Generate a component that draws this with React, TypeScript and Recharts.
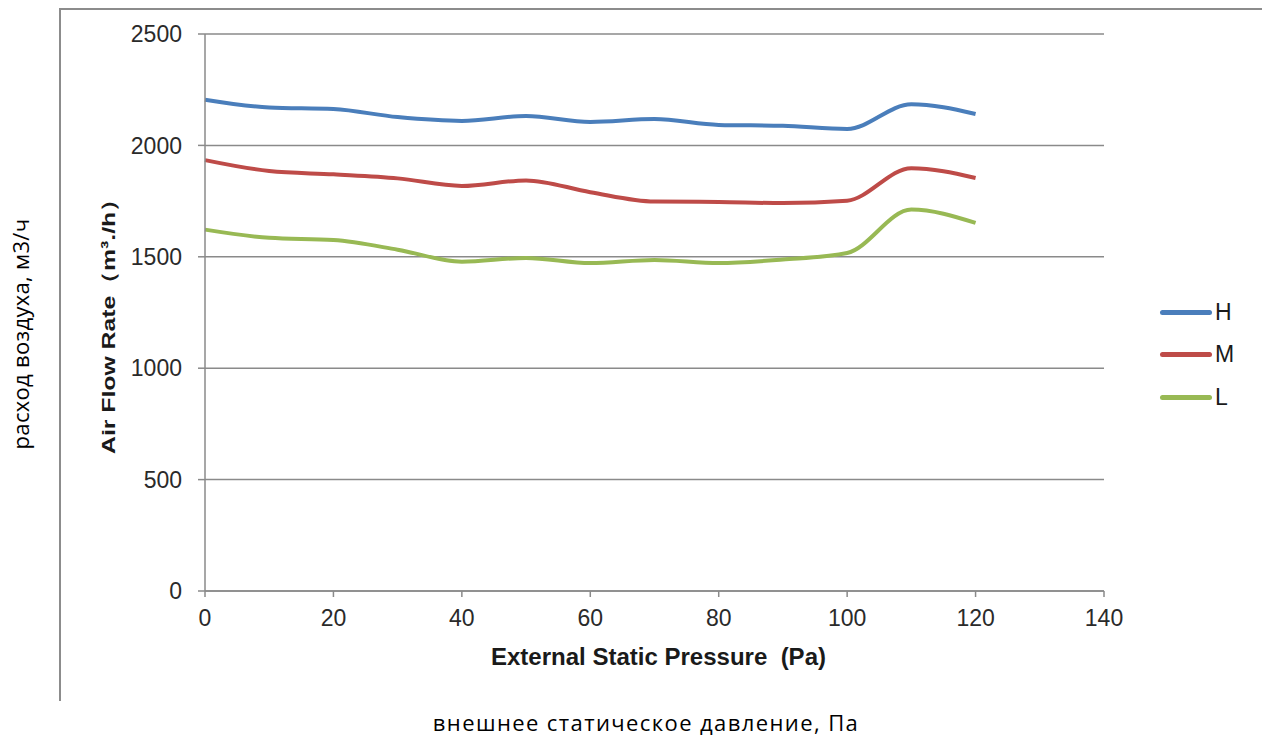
import { LineChart, Line, XAxis, YAxis, CartesianGrid, Label } from 'recharts';

const pressure = [0, 10, 20, 30, 40, 50, 60, 70, 80, 90, 100, 110, 120];
const flowH = [2205, 2170, 2163, 2127, 2110, 2132, 2105, 2118, 2092, 2088, 2074, 2185, 2141];
const flowM = [1934, 1885, 1870, 1852, 1818, 1843, 1790, 1748, 1746, 1741, 1752, 1898, 1854];
const flowL = [1622, 1585, 1575, 1532, 1478, 1495, 1472, 1486, 1472, 1488, 1517, 1712, 1652];
const xTicks = [0, 20, 40, 60, 80, 100, 120, 140];
const yTicks = [0, 500, 1000, 1500, 2000, 2500];

const SERIES = [
    { key: 'H', values: flowH, color: '#4A7EBB' },
    { key: 'M', values: flowM, color: '#BE4B48' },
    { key: 'L', values: flowL, color: '#98B954' },
];

const data = pressure.map((p, i) => {
    const row: Record<string, number> = { p };
    SERIES.forEach(s => { row[s.key] = s.values[i]; });
    return row;
});

const GRID = '#8a8a8a';
const FONT = '"Liberation Sans", Arial, sans-serif';
const TICK = { fontSize: 23, fill: '#2a2a2a', fontFamily: FONT };

function YTitle({ viewBox }: any) {
    const x = viewBox.x + 115;
    const y = viewBox.y + viewBox.height / 2 + 8;
    return (
        <text x={x} y={y} transform={`rotate(-90 ${x} ${y})`} textAnchor="middle" fontSize={19} fontWeight={700}
            fill="#1a1a1a" fontFamily={FONT} textLength={267} lengthAdjust="spacingAndGlyphs">
            Air Flow Rate（m³./h）
        </text>
    );
}

function XTitle({ viewBox }: any) {
    const x = viewBox.x + viewBox.width / 2 + 4;
    return (
        <text x={x} y={viewBox.y + 74} textAnchor="middle" fontSize={24} fontWeight={700} fill="#1a1a1a"
            fontFamily={FONT} textLength={335} lengthAdjust="spacingAndGlyphs" style={{ whiteSpace: 'pre' }}>
            External Static Pressure  (Pa)
        </text>
    );
}

export default function App() {
    return (
        <div style={{ position: 'absolute', left: 0, top: 0, width: 1263, height: 744, background: '#fff', overflow: 'hidden' }}>
            {/* frame of the pasted picture */}
            <div style={{ position: 'absolute', left: 59, top: 8, width: 1201, height: 691, borderLeft: '2px solid #8c8c8c', borderTop: '2px solid #8c8c8c' }} />
            <LineChart width={1263} height={744} data={data} margin={{ top: 34, right: 159, bottom: 0, left: 0 }}
                style={{ position: 'absolute', left: 0, top: 0 }}>
                <CartesianGrid vertical={false} stroke={GRID} strokeWidth={1.5} />
                <XAxis dataKey="p" type="number" domain={[0, 140]} ticks={xTicks} height={153} interval={0}
                    stroke={GRID} strokeWidth={1.5} tickSize={6} tickMargin={13} tick={TICK}
                    tickLine={{ stroke: GRID, strokeWidth: 1.5 }}>
                    <Label content={XTitle} />
                </XAxis>
                <YAxis type="number" domain={[0, 2500]} ticks={yTicks} width={205} interval={0}
                    stroke={GRID} strokeWidth={1.5} tickSize={7} tickMargin={16} tick={TICK}
                    tickLine={{ stroke: GRID, strokeWidth: 1.5 }}>
                    <Label content={YTitle} />
                </YAxis>
                {SERIES.map(s => (
                    <Line key={s.key} dataKey={s.key} type="monotone" stroke={s.color} strokeWidth={4}
                        dot={false} activeDot={false} isAnimationActive={false} />
                ))}
            </LineChart>
            {/* legend */}
            <div style={{ position: 'absolute', left: 1160, top: 291, fontFamily: FONT, fontSize: 23, color: '#1a1a1a' }}>
                {SERIES.map(s => (
                    <div key={s.key} style={{ display: 'flex', alignItems: 'center', height: 42.5 }}>
                        <span style={{ display: 'inline-block', width: 52, height: 5, borderRadius: 3, background: s.color, marginRight: 3 }} />
                        <span>{s.key}</span>
                    </div>
                ))}
            </div>
            {/* captions around the picture */}
            <div style={{ position: 'absolute', left: 20, top: 334, transform: 'translate(-50%, -50%) rotate(-90deg)', whiteSpace: 'nowrap',
                fontFamily: '"Open Sans", sans-serif', fontSize: 22, letterSpacing: 0.3, color: '#000' }}>
                расход воздуха, м3/ч
            </div>
            <div style={{ position: 'absolute', left: 646, top: 722, transform: 'translate(-50%, -50%)', whiteSpace: 'nowrap',
                fontFamily: '"Open Sans", sans-serif', fontSize: 22, letterSpacing: 1.4, color: '#000' }}>
                внешнее статическое давление, Па
            </div>
        </div>
    );
}
